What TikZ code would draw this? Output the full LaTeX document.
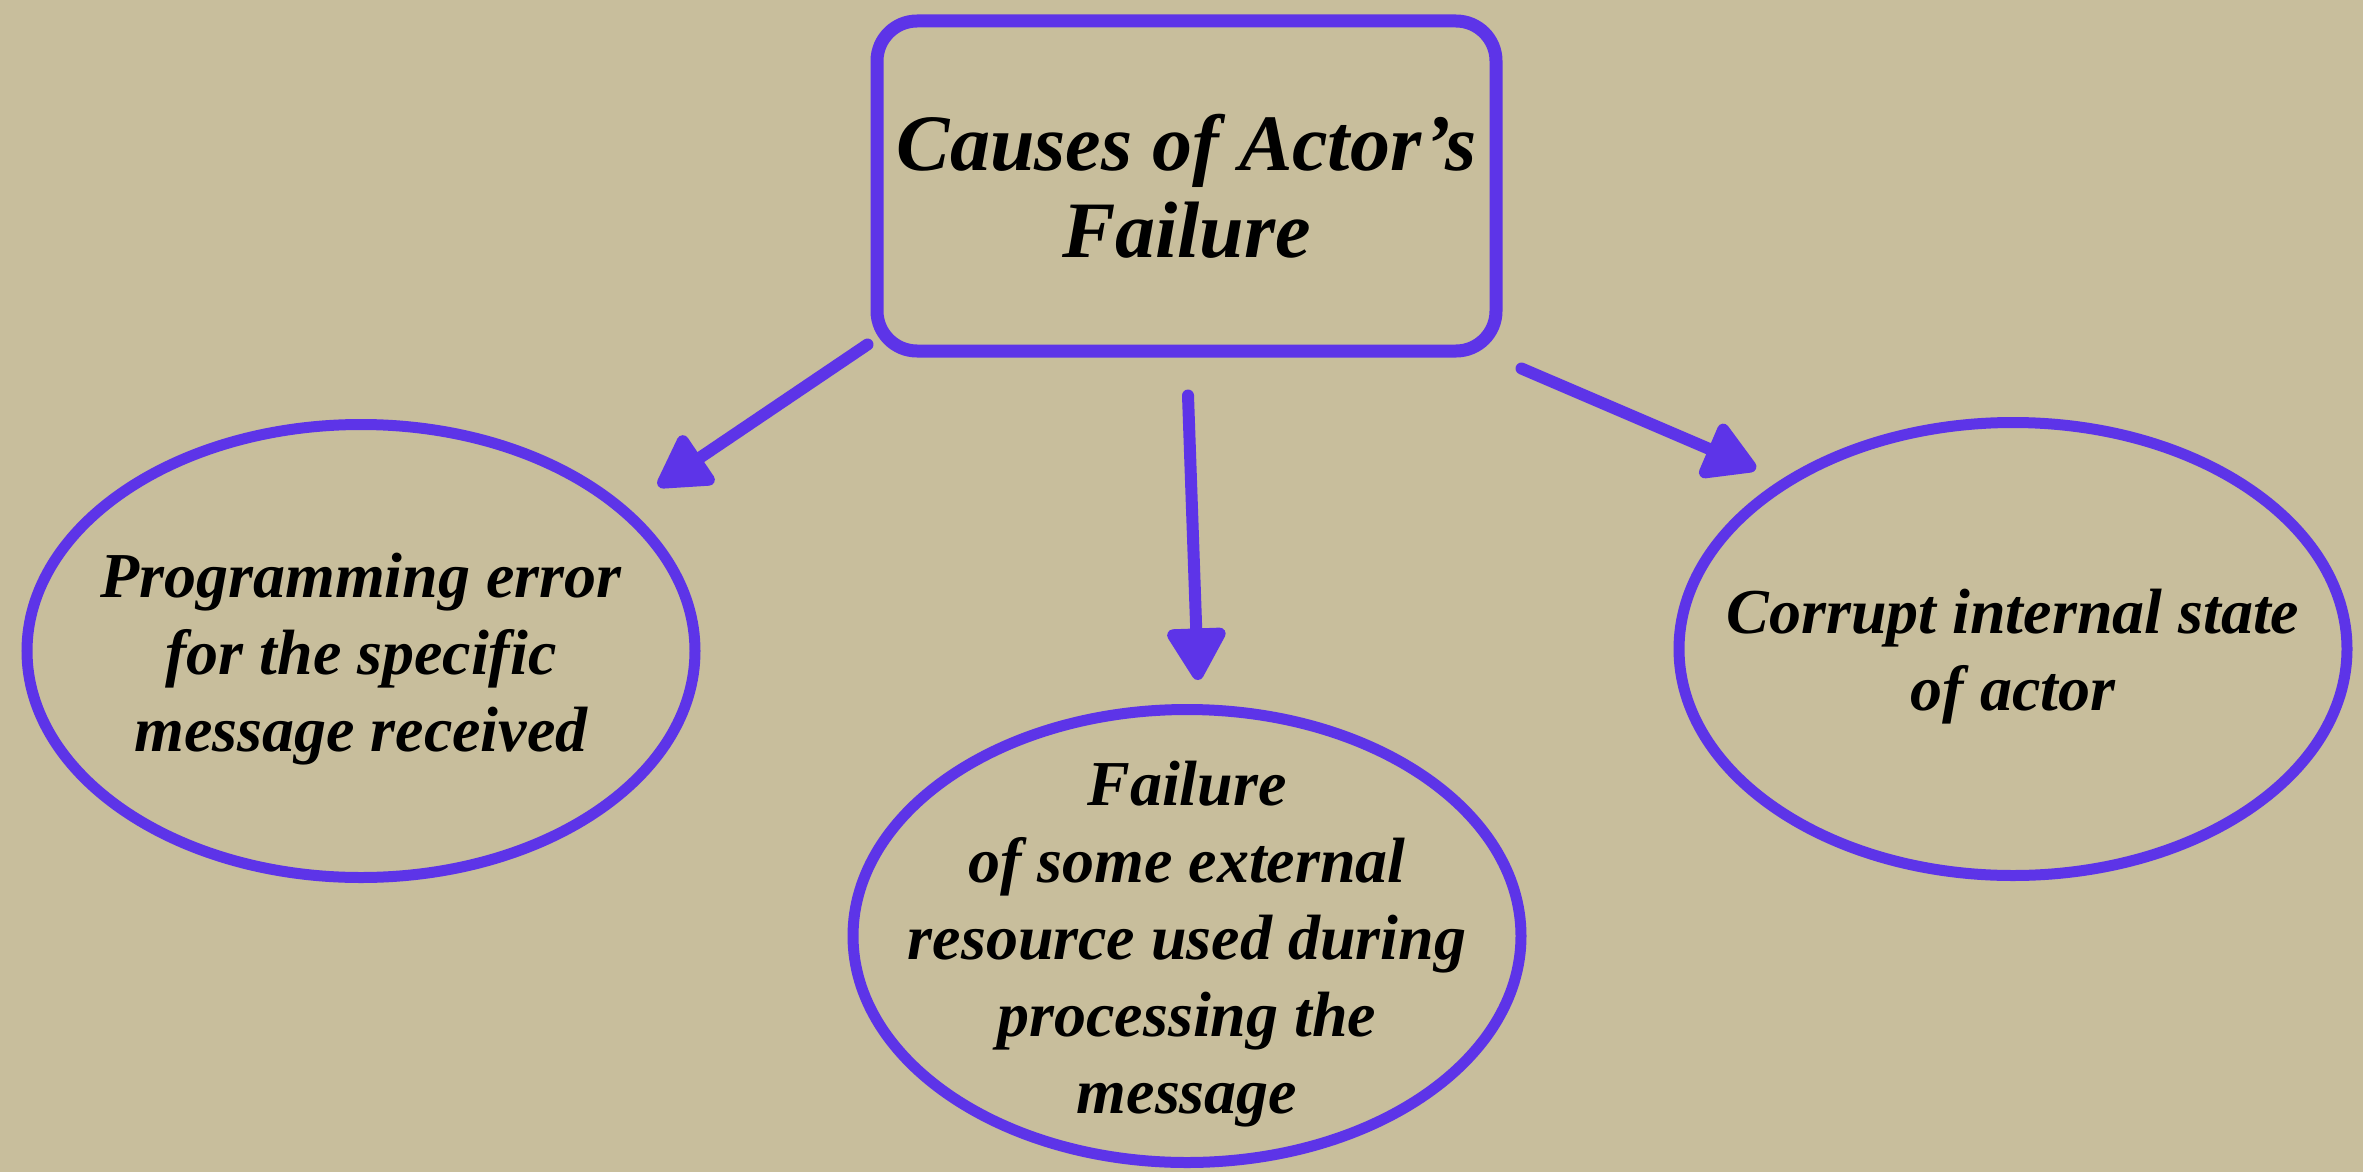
\documentclass[tikz,border=0pt]{standalone}
\usepackage{fontspec}
\setmainfont{Liberation Serif}
\usetikzlibrary{shapes.geometric,arrows.meta}
\definecolor{paper}{RGB}{200,190,156}
\definecolor{ink}{RGB}{93,52,232}
\tikzset{
  causebox/.style={draw=ink, line width=13pt, rounded corners=40pt,
    minimum width=619pt, minimum height=330pt, inner sep=0pt,
    align=center, font=\fontsize{80}{87}\selectfont\bfseries\itshape},
  causeoval/.style={draw=ink, line width=11pt, ellipse,
    minimum width=668pt, minimum height=453pt, inner sep=0pt},
  ovaltext/.style={align=center, inner sep=0pt, yshift=-8pt,
    font=\fontsize{64}{77}\selectfont\bfseries\itshape},
  brush/.style={draw=ink, line width=12pt, line cap=round,
    -{Triangle[length=58pt, width=64pt, round]}}
}
\begin{document}
\begin{tikzpicture}[x=1pt, y=-1pt]
  % paper background, fixes the page size
  \fill[paper] (0,0) rectangle (2363,1172);
  \useasboundingbox (0,0) rectangle (2363,1172);

  % central topic
  \node[causebox] (top) at (1186.5,186) {Causes of Actor's\\Failure};

  % the three causes
  \node[causeoval, label={[ovaltext]center:Programming error\\for the specific\\message received}]
    (prog) at (361,651) {};
  \node[causeoval, label={[ovaltext]center:Failure\\of some external\\resource used during\\processing the\\message}]
    (ext) at (1187,936) {};
  \node[causeoval, label={[ovaltext]center:Corrupt internal state\\of actor}]
    (state) at (2013,649) {};

  % arrows from the topic to each cause
  \draw[brush] ([shift={(-3,-13)}]top.south west) -- ([shift={(57,-1)}]prog.north east);
  \draw[brush] ([shift={(1.5,38)}]top.south) -- ([shift={(11,-24)}]ext.north);
  \draw[brush] ([shift={(19,11)}]top.south east) -- ([shift={(-17,-16)}]state.north west);
\end{tikzpicture}
\end{document}
